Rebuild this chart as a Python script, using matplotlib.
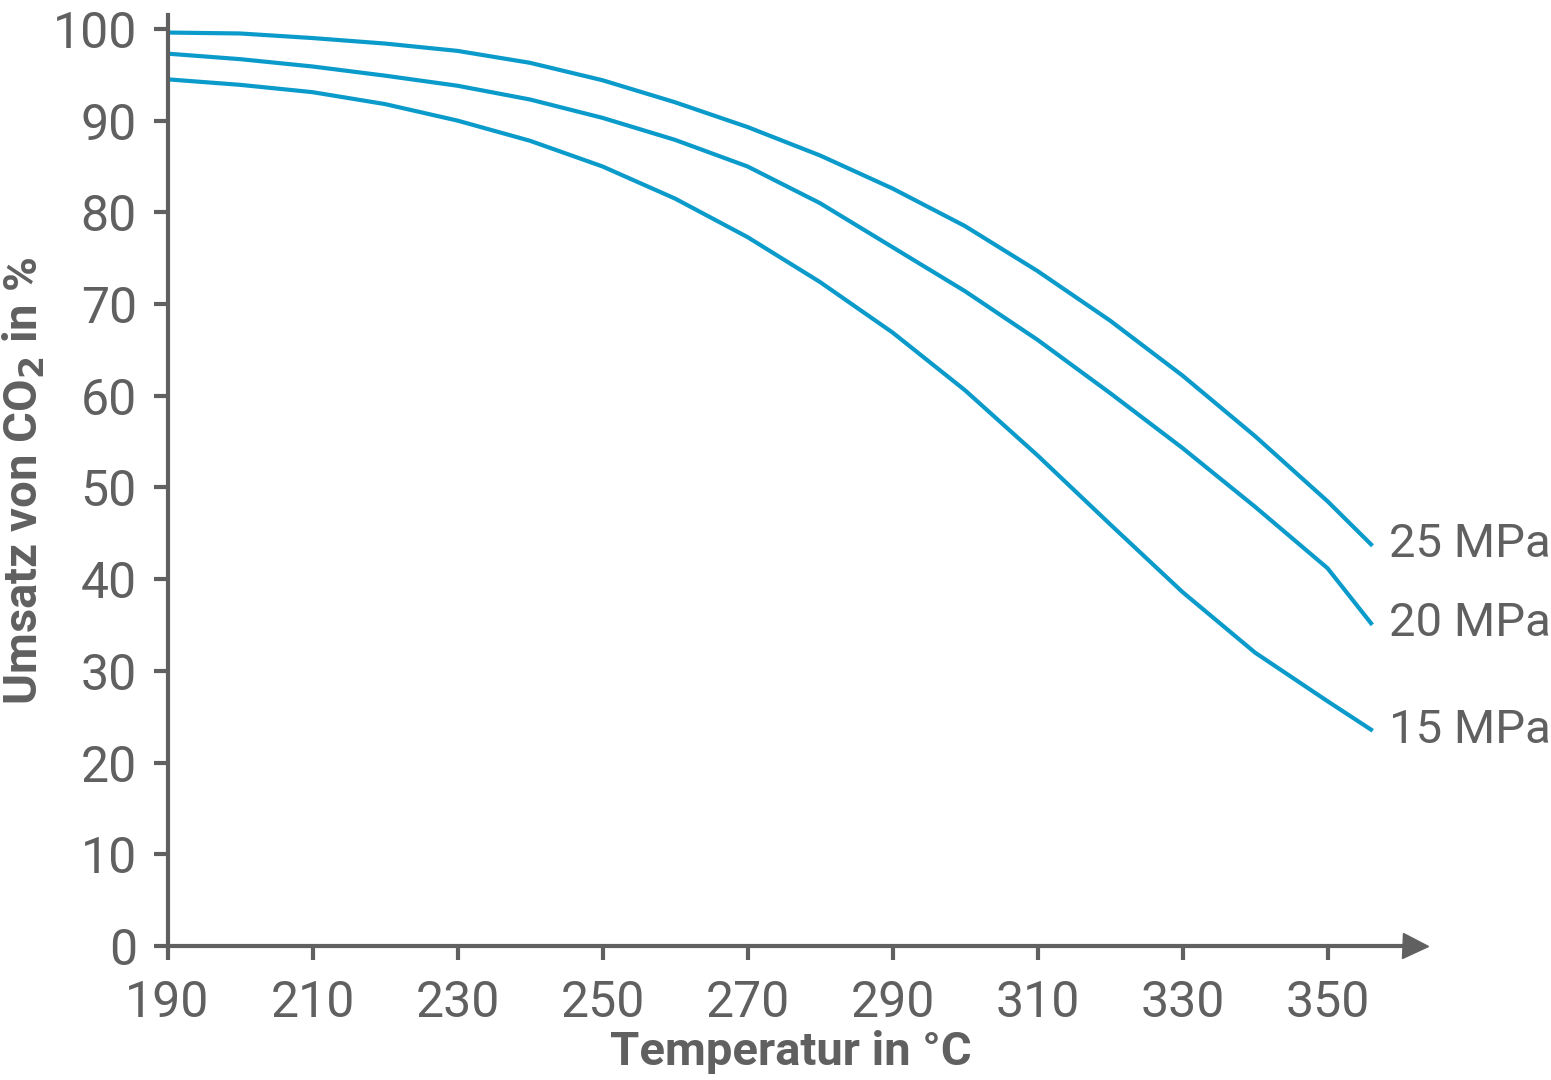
import matplotlib
matplotlib.use("Agg")
import matplotlib.pyplot as plt

temps = [190, 200, 210, 220, 230, 240, 250, 260, 270, 280, 290, 300, 310, 320, 330, 340, 350, 356]
p25 = [99.6, 99.5, 99.0, 98.4, 97.6, 96.3, 94.4, 92.0, 89.3, 86.2, 82.6, 78.5, 73.6, 68.2, 62.2, 55.6, 48.5, 43.8]
p20 = [97.3, 96.7, 95.9, 94.9, 93.8, 92.3, 90.3, 87.9, 85.0, 81.0, 76.2, 71.4, 66.1, 60.3, 54.3, 47.9, 41.2, 35.2]
p15 = [94.5, 93.9, 93.1, 91.8, 90.0, 87.8, 85.0, 81.5, 77.3, 72.4, 66.9, 60.6, 53.5, 46.0, 38.6, 32.0, 26.7, 23.6]
series = [("25 MPa", p25), ("20 MPa", p20), ("15 MPa", p15)]
xticks = [190, 210, 230, 250, 270, 290, 310, 330, 350]
yticks = [0, 10, 20, 30, 40, 50, 60, 70, 80, 90, 100]

plt.rcParams["font.family"] = "Roboto"
gray = "#606060"
blue = "#0a9bcb"
fig = plt.figure(figsize=(15.51, 10.8), dpi=100)
ax = fig.add_axes([0.108, 0.124, 0.804, 0.862])
for name, vals in series:
    ax.plot(temps, vals, color=blue, lw=3)
    ax.text(temps[-1] + 2.5, vals[-1], name, fontsize=34, color=gray, va="center", ha="left")
ax.set_xlim(190, 362)
ax.set_ylim(0, 101.5)
ax.set_xticks(xticks)
ax.set_yticks(yticks)
for s in ["top", "right"]:
    ax.spines[s].set_visible(False)
for s in ["left", "bottom"]:
    ax.spines[s].set_color(gray)
    ax.spines[s].set_linewidth(3)
ax.tick_params(colors=gray, labelsize=36, width=3, length=10)
ax.tick_params(axis="x", pad=14)
ax.tick_params(axis="y", pad=12)
ax.plot(1, 0, ">", color=gray, markersize=18, transform=ax.transAxes, clip_on=False)
ax.set_xlabel("Temperatur in °C", fontsize=34, fontweight="bold", color=gray, labelpad=2)
ax.set_ylabel("Umsatz von CO$_\\mathbf{2}$ in %", fontsize=34, fontweight="bold", color=gray, labelpad=4)
fig.savefig("out.png", dpi=100)
